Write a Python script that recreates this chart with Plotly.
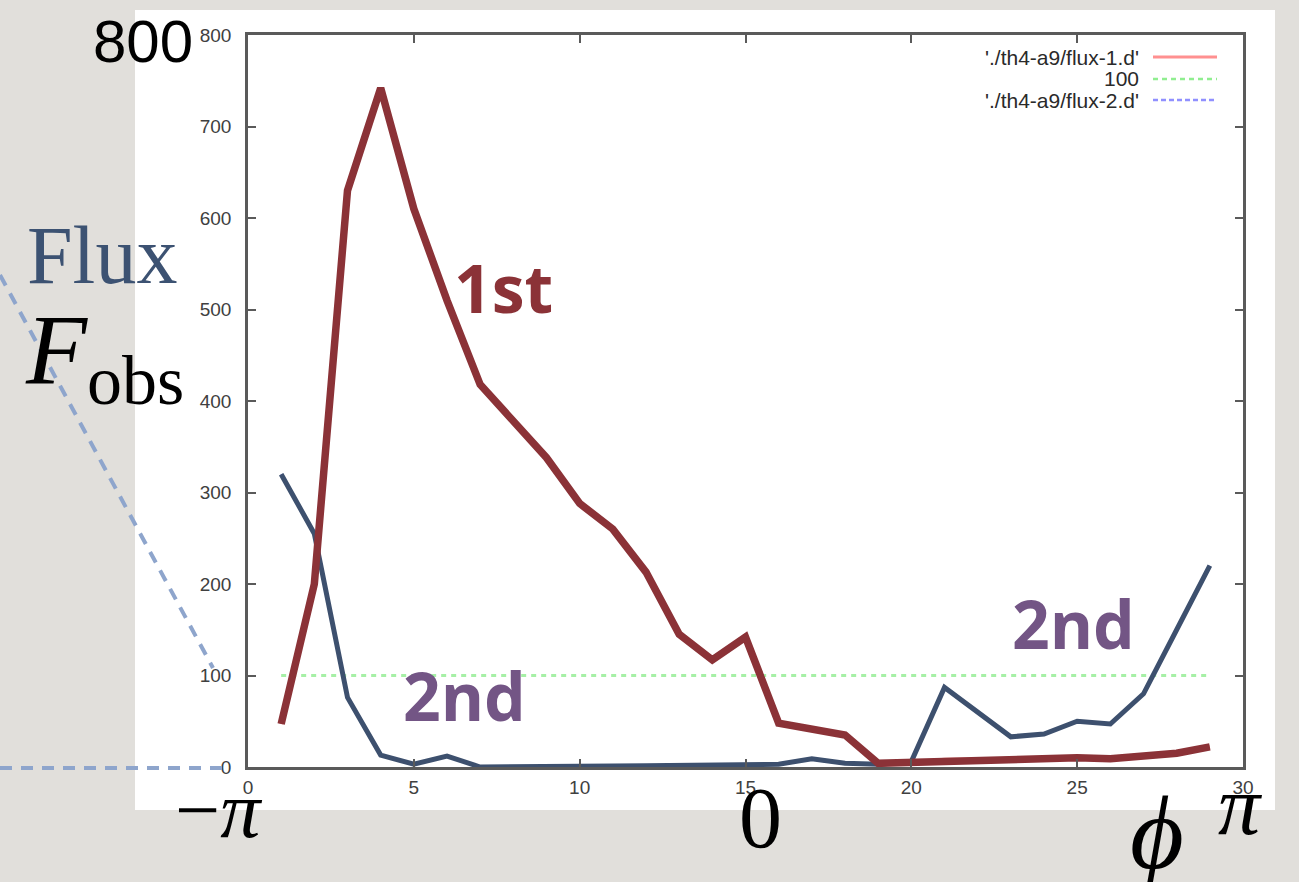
import plotly.graph_objects as go

# ---- data ----
x_vals = list(range(1, 30))
flux1 = [47, 200, 630, 742, 610, 510, 418, 378, 338, 288, 260, 213, 145, 117, 142,
         48, 42, 35, 4, 5, 8, 8, 9, 9, 10, 9, 11, 15, 22]
flux2 = [320, 255, 76, 13, 3, 12, 0, 0, 0.5, 1, 1, 1.5, 2, 2, 2.5,
         3, 9, 4, 3, 6, 87, 60, 33, 36, 50, 47, 80, 150, 220]
level = [100] * 29
legend_labels = ["'./th4-a9/flux-1.d'", "100", "'./th4-a9/flux-2.d'"]

W, H = 1299, 882
L, R, T, B = 248, 1243, 35, 767


def px(X):
    return (X - L) / (R - L)


def py(Y):
    return (B - Y) / (B - T)


fig = go.Figure()
# thin gnuplot-style traces underneath
fig.add_trace(go.Scatter(x=x_vals, y=level, mode="lines",
                         line=dict(color="#a6f0a6", width=3, dash="5px,5px"),
                         showlegend=False))
fig.add_trace(go.Scatter(x=x_vals, y=flux1, mode="lines",
                         line=dict(color="#ff9a9a", width=4), showlegend=False))
fig.add_trace(go.Scatter(x=x_vals, y=flux2, mode="lines",
                         line=dict(color="#a0a0ff", width=3, dash="3px,3px"),
                         showlegend=False))
# thick hand-drawn overlays
fig.add_trace(go.Scatter(x=x_vals, y=flux2, mode="lines",
                         line=dict(color="#3d506e", width=5), showlegend=False))
fig.add_trace(go.Scatter(x=x_vals, y=flux1, mode="lines",
                         line=dict(color="#8b3237", width=7.5), showlegend=False))

axis_common = dict(showgrid=False, zeroline=False, showline=True, linecolor="#5a5a5a",
                   linewidth=2.5, mirror="ticks", ticks="inside", ticklen=8,
                   tickcolor="#5a5a5a", tickwidth=2,
                   tickfont=dict(family="Liberation Sans", size=19, color="#404040"))
fig.update_xaxes(range=[0, 30], dtick=5, tick0=0, ticklabelstandoff=1, **axis_common)
fig.update_yaxes(range=[0, 800], dtick=100, tick0=0, ticklabelstandoff=10, **axis_common)

shapes = [
    dict(type="rect", xref="paper", yref="paper", x0=px(135), x1=px(1275),
         y0=py(810), y1=py(10), fillcolor="white", line=dict(width=0), layer="below"),
    dict(type="line", xref="paper", yref="paper", x0=px(0), y0=py(275), x1=px(213), y1=py(668),
         line=dict(color="#8ea5cc", width=4, dash="12px,9px")),
    dict(type="line", xref="paper", yref="paper", x0=px(0), y0=py(768), x1=px(222), y1=py(768),
         line=dict(color="#8ea5cc", width=4, dash="12px,9px")),
]
# manual gnuplot legend samples
legend_rows = [57, 79, 100]
sample_styles = [dict(color="#ff9090", width=3),
                 dict(color="#90ee90", width=2.5, dash="5px,4px"),
                 dict(color="#9090ff", width=2.5, dash="5px,3px")]
for yy, st in zip(legend_rows, sample_styles):
    shapes.append(dict(type="line", xref="paper", yref="paper", x0=px(1153), x1=px(1217),
                       y0=py(yy), y1=py(yy), line=st))

annotations = []
for yy, lab in zip(legend_rows, legend_labels):
    annotations.append(dict(text=lab, xref="paper", yref="paper", x=px(1141), y=py(yy),
                            xanchor="right", yanchor="middle", showarrow=False,
                            font=dict(family="Liberation Sans", size=21, color="#2a2a2a")))


def note(text, X, Y, size, color="black", family="Liberation Serif"):
    annotations.append(dict(text=text, xref="paper", yref="paper", x=px(X), y=py(Y),
                            xanchor="center", yanchor="middle", showarrow=False,
                            font=dict(family=family, size=size, color=color)))


note("800", 143, 42, 60, family="Liberation Sans")
note("Flux", 102, 255, 82, color="#3c5272")
note("<i>F</i><sub>obs</sub>", 104, 356, 100)
note("<b>1st</b>", 503, 287, 66, color="#8b3237", family="Open Sans")
note("<b>2nd</b>", 464, 695, 66, color="#735585", family="Open Sans")
note("<b>2nd</b>", 1073, 623, 66, color="#735585", family="Open Sans")
note("−<i>π</i>", 218, 810, 80)
note("0", 760, 818, 86)
note("<i>π</i>", 1240, 805, 84)
note("<i>ϕ</i>", 1157, 832, 104)

fig.update_layout(width=W, height=H, autosize=False,
                  margin=dict(l=L, r=W - R, t=T, b=H - B),
                  paper_bgcolor="#e1dfdb", plot_bgcolor="white",
                  shapes=shapes, annotations=annotations, showlegend=False)

fig.write_html("out.html", config={"displayModeBar": False},
               post_script="document.body.style.margin='0';document.body.style.overflow='hidden';")
